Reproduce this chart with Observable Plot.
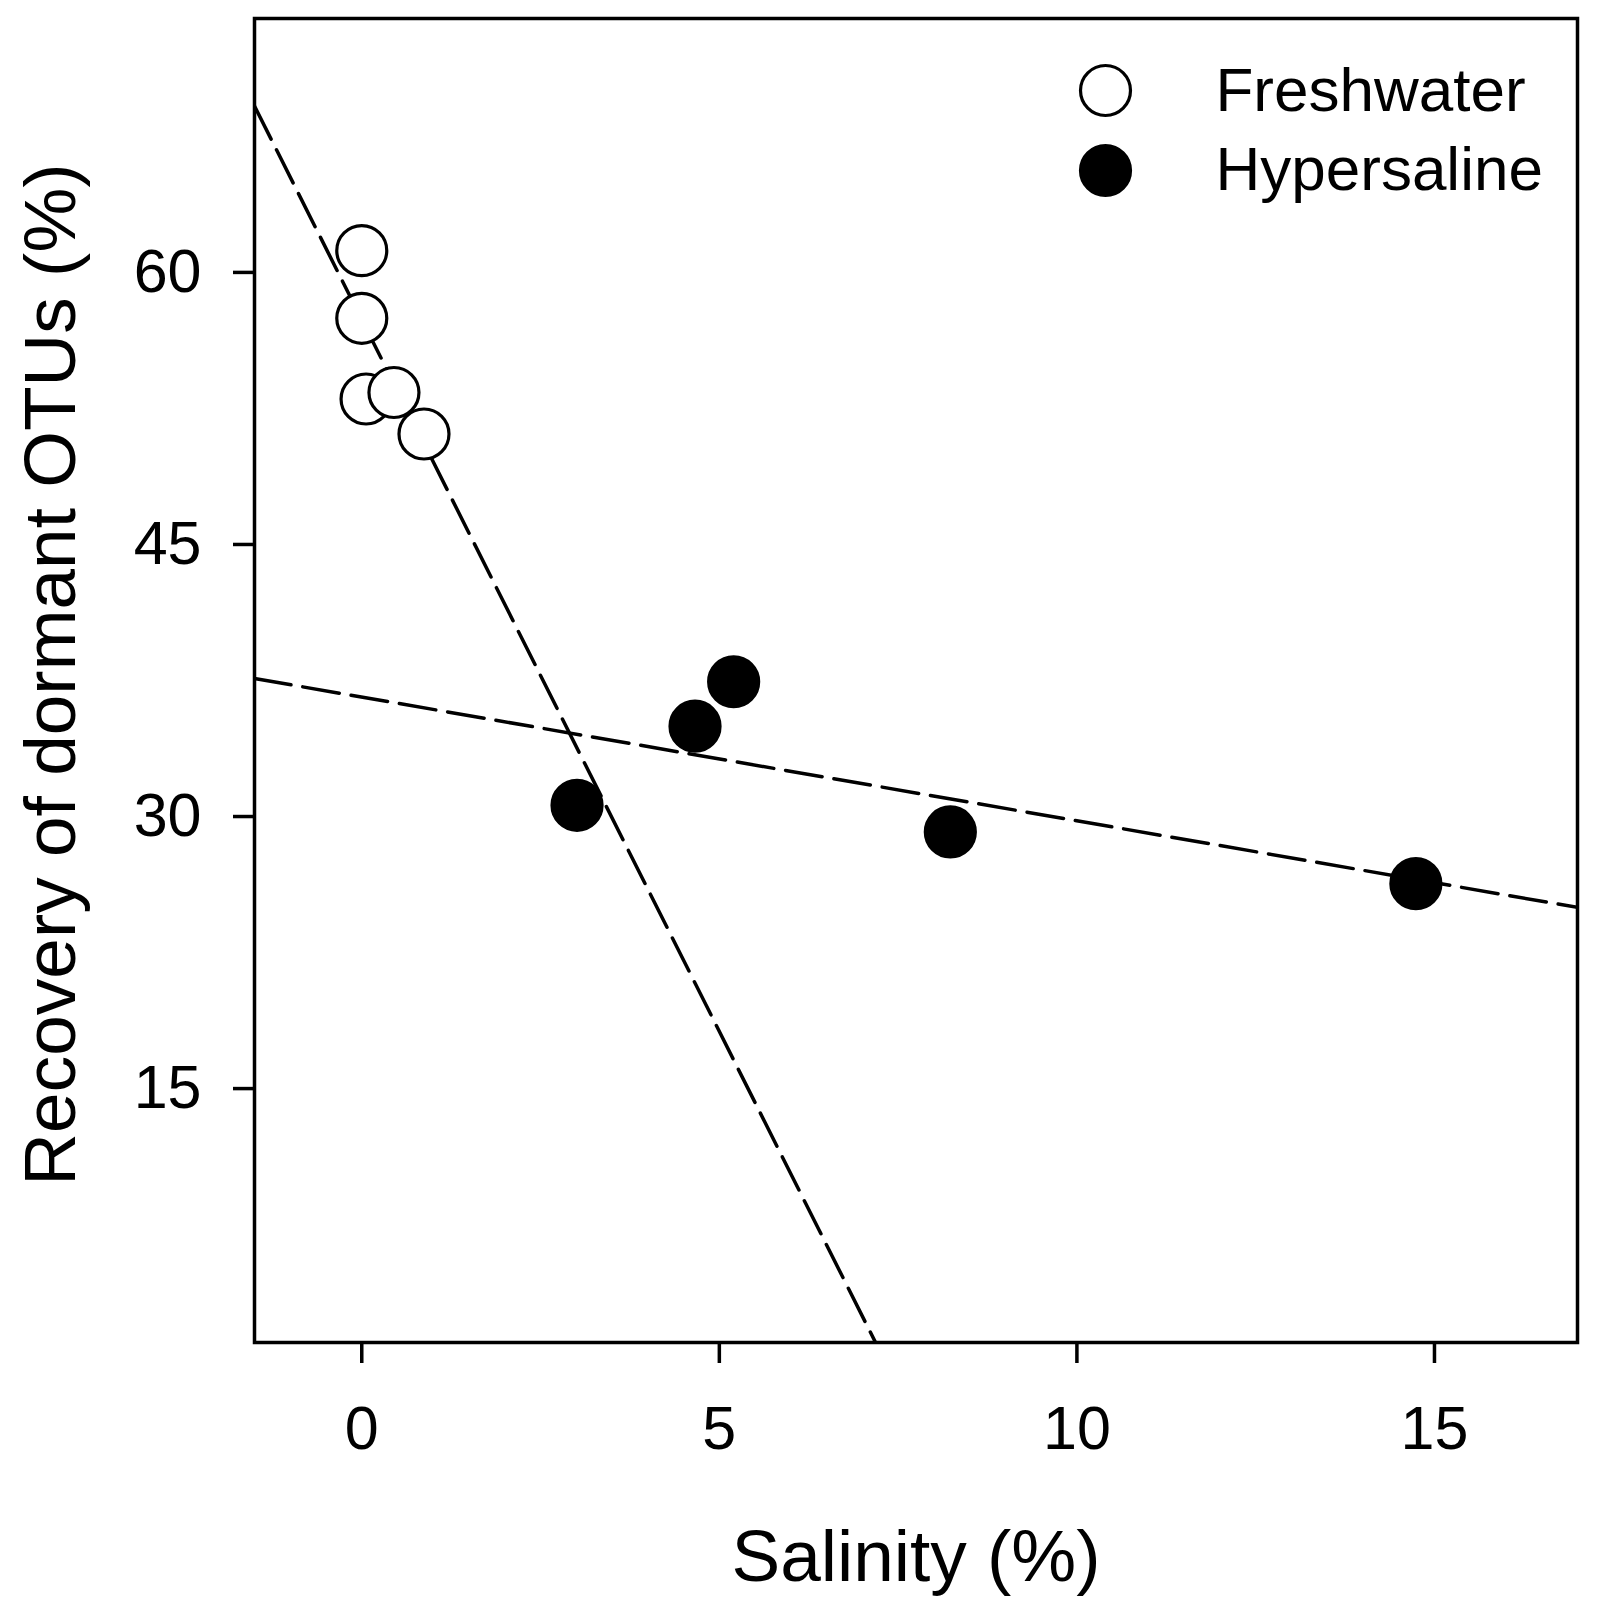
<!DOCTYPE html>
<html><head><meta charset="utf-8">
<script src="https://cdn.jsdelivr.net/npm/d3@7"></script>
<script src="https://cdn.jsdelivr.net/npm/@observablehq/plot@0.6"></script>
<style>html,body{margin:0;padding:0;background:#fff}#chart{width:1600px}</style>
</head><body><div id="chart"></div>
<script>
const groups = ["Freshwater", "Hypersaline"];
const freshSalinity = [0, 0, 0.06, 0.45, 0.87];
const freshRecovery = [61.2, 57.47, 53.02, 53.38, 51.09];
const hyperSalinity = [3.01, 4.66, 5.2, 8.23, 14.74];
const hyperRecovery = [30.62, 34.98, 37.43, 29.15, 26.3];
const xTicks = [0, 5, 10, 15];
const yTicks = [15, 30, 45, 60];
const xDomain = [-1.5, 17];
const yDomain = [1, 74];
const xLabel = "Salinity (%)";
const yLabel = "Recovery of dormant OTUs (%)";

function fit(xs, ys) {
  const mx = d3.mean(xs), my = d3.mean(ys);
  let sxy = 0, sxx = 0;
  xs.forEach((x, i) => { sxy += (x - mx) * (ys[i] - my); sxx += (x - mx) ** 2; });
  const b = sxy / sxx;
  return {a: my - b * mx, b};
}

const freshPts = freshSalinity.map((x, i) => ({x, y: freshRecovery[i], group: groups[0]}));
const hyperPts = hyperSalinity.map((x, i) => ({x, y: hyperRecovery[i], group: groups[1]}));
const fF = fit(freshSalinity, freshRecovery);
const fH = fit(hyperSalinity, hyperRecovery);
const lineData = [
  ...xDomain.map(x => ({x, y: fF.a + fF.b * x, group: groups[0]})),
  ...xDomain.map(x => ({x, y: fH.a + fH.b * x, group: groups[1]}))
];

const fills = ["white", "black"];
const legendMarks = groups.flatMap((g, i) => [
  Plot.dot([g], {frameAnchor: "top-right", dx: -472, dy: 72 + i * 80, r: 25, fill: fills[i], stroke: "black", strokeWidth: 3.2}),
  Plot.text([g], {text: d => d, frameAnchor: "top-right", dx: -362, dy: 92 + i * 79, textAnchor: "start", lineAnchor: "bottom", fontSize: 62, fill: "black"})
]);

const chart = Plot.plot({
  width: 1600,
  height: 1610,
  marginTop: 18,
  marginRight: 23,
  marginBottom: 268,
  marginLeft: 254,
  style: {fontFamily: "'Liberation Sans', Arial, sans-serif", background: "white", color: "black"},
  x: {domain: xDomain},
  y: {domain: yDomain},
  marks: [
    Plot.line(lineData, {x: "x", y: "y", z: "group", stroke: "black", strokeWidth: 3.5, strokeDasharray: "37,12", clip: true}),
    Plot.dot(freshPts, {x: "x", y: "y", r: 25, fill: "white", stroke: "black", strokeWidth: 3.2}),
    Plot.dot(hyperPts, {x: "x", y: "y", r: 25, fill: "black", stroke: "black", strokeWidth: 3.2}),
    Plot.frame({stroke: "black", strokeWidth: 3.5}),
    Plot.axisX({ticks: xTicks, tickSize: 21, tickPadding: 42, fontSize: 61, strokeWidth: 3.5, label: null, tickFormat: d => String(d)}),
    Plot.axisY({ticks: yTicks, tickSize: 21, tickPadding: 32, fontSize: 61, strokeWidth: 3.5, label: null, tickFormat: d => String(d)}),
    Plot.text([xLabel], {text: d => d, frameAnchor: "bottom", dy: 238, textAnchor: "middle", lineAnchor: "bottom", fontSize: 73, fill: "black"}),
    Plot.text([yLabel], {text: d => d, frameAnchor: "left", dx: -180, dy: -6, rotate: -90, textAnchor: "middle", lineAnchor: "bottom", fontSize: 73, fill: "black"}),
    ...legendMarks
  ]
});
document.getElementById("chart").appendChild(chart);
</script>
</body></html>
